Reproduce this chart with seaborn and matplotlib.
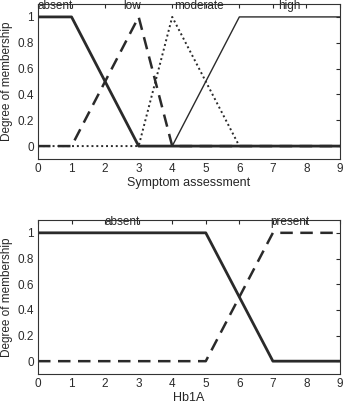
import numpy as np
import pandas as pd
import seaborn as sns
import matplotlib.pyplot as plt

sns.set_style('white')
plt.rcParams['font.family'] = ['Liberation Sans', 'DejaVu Sans']

# membership function break points
symptom_x = {
    'absent': [0, 1, 3, 9],
    'low': [0, 1, 3, 4, 9],
    'moderate': [0, 3, 4, 6],
    'high': [4, 6, 9],
}
symptom_y = {
    'absent': [1, 1, 0, 0],
    'low': [0, 0, 1, 0, 0],
    'moderate': [0, 0, 1, 0],
    'high': [0, 1, 1],
}
hb_x = {
    'absent': [0, 5, 7, 9],
    'present': [0, 5, 7, 9],
}
hb_y = {
    'absent': [1, 1, 0, 0],
    'present': [0, 0, 1, 1],
}
symptom_label_pos = {'absent': 0.5, 'low': 2.8, 'moderate': 4.8, 'high': 7.5}
hb_label_pos = {'absent': 2.5, 'present': 7.5}

styles = {
    ('s', 'absent'): dict(ls='-', lw=2.0),
    ('s', 'low'): dict(ls=(0, (5, 3)), lw=1.8),
    ('s', 'moderate'): dict(ls=(0, (1, 1.5)), lw=1.4),
    ('s', 'high'): dict(ls='-', lw=1.0),
    ('h', 'absent'): dict(ls='-', lw=2.0),
    ('h', 'present'): dict(ls=(0, (5, 3)), lw=1.8),
}

fig = plt.figure(figsize=(3.47, 4.03), dpi=100)
ax1 = fig.add_axes([38 / 347, 1 - 159 / 403, 302 / 347, 155 / 403])
ax2 = fig.add_axes([38 / 347, 1 - 374 / 403, 302 / 347, 154 / 403])


def draw(ax, xs, ys, key, label_pos, xlabel):
    for name in xs:
        df = pd.DataFrame({'x': xs[name], 'y': ys[name]})
        st = styles[(key, name)]
        sns.lineplot(data=df, x='x', y='y', ax=ax, color='#2a2a2a',
                     linestyle=st['ls'], linewidth=st['lw'], sort=False)
        ax.text(label_pos[name], 1.04, name, ha='center', va='bottom',
                fontsize=8.5, color='#2a2a2a')
    ax.set_xlim(0, 9)
    ax.set_ylim(-0.1, 1.1)
    ax.set_xticks(range(10))
    ax.set_yticks([0, 0.2, 0.4, 0.6, 0.8, 1])
    ax.set_yticklabels(['0', '0.2', '0.4', '0.6', '0.8', '1'])
    ax.tick_params(direction='in', length=3, labelsize=8.5, top=True, right=True,
                   colors='#2a2a2a', width=0.8, pad=3)
    ax.set_xlabel(xlabel, fontsize=9, labelpad=1)
    ax.set_ylabel('Degree of membership', fontsize=8.5, labelpad=3)
    for sp in ax.spines.values():
        sp.set_color('#333333')
        sp.set_linewidth(0.8)


draw(ax1, symptom_x, symptom_y, 's', symptom_label_pos, 'Symptom assessment')
draw(ax2, hb_x, hb_y, 'h', hb_label_pos, 'Hb1A')

fig.savefig('out.png', dpi=100)
